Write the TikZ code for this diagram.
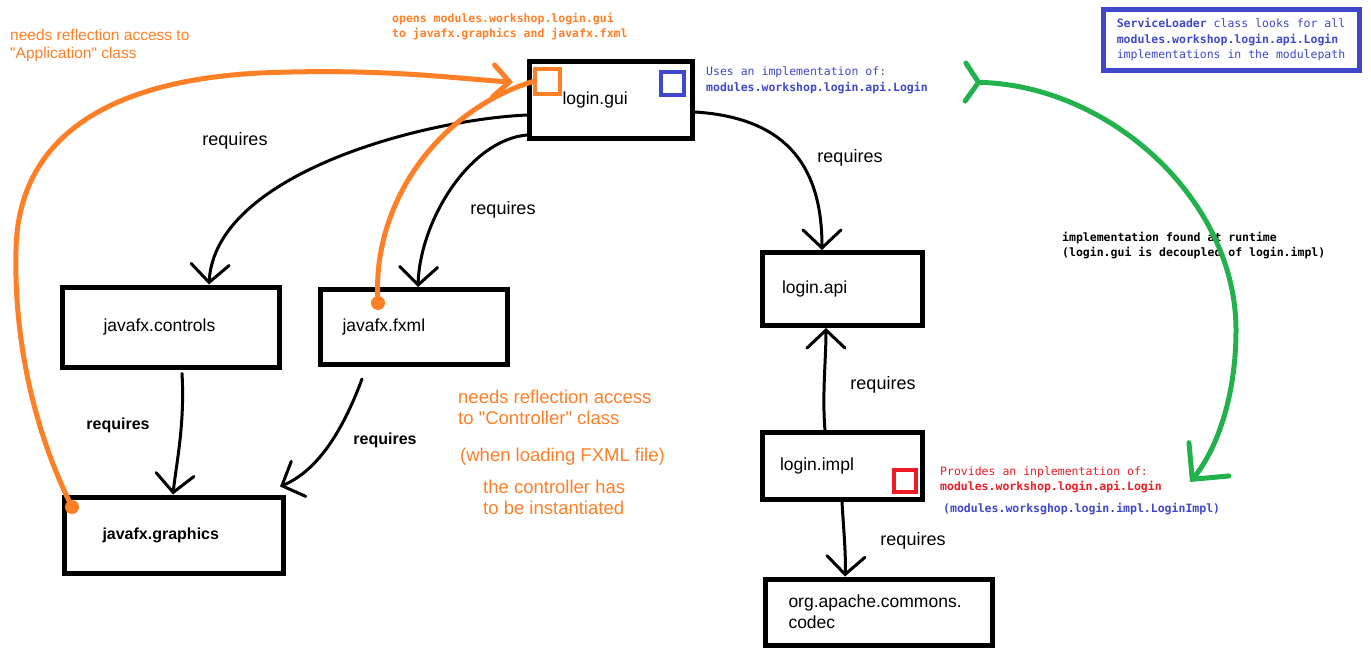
\documentclass[tikz,border=0pt]{standalone}
\usepackage{fontspec}
\setmainfont{Liberation Sans}
\newfontfamily\consfont{DejaVu Sans Mono}
\usetikzlibrary{arrows.meta}
\definecolor{paintorange}{HTML}{FF7F27}
\definecolor{paintblue}{HTML}{3F48CC}
\definecolor{paintred}{HTML}{ED1C24}
\definecolor{paintgreen}{HTML}{22B14C}
\newcommand{\mb}[1]{\textbf{#1}}
\newcommand{\qq}[1]{\textquotedbl#1\textquotedbl}
\tikzset{
	modbox/.style={draw, line width=5pt, minimum height=#1, align=left,
		font=\fontsize{17.5}{21}\selectfont},
	req/.style={line width=3pt, line cap=round,
		-{Straight Barb[length=18pt,width=38pt,line cap=round]}},
	reqlabel/.style={font=\fontsize{18}{22}\selectfont, inner sep=0pt},
	reqbold/.style={font=\fontsize{16}{20}\selectfont\bfseries, inner sep=0pt},
	mono/.style={font=\fontsize{11.5}{15.5}\selectfont\consfont, align=left, anchor=west, inner sep=0pt},
	note/.style={text=paintorange, align=left, anchor=west, inner sep=0pt},
	mark box/.style={draw=#1, line width=4pt, inner sep=0pt},
	reflect/.style={draw=paintorange, line width=5pt, line cap=round},
	odot/.style={circle, fill=paintorange, minimum size=14pt, inner sep=0pt},
	found/.style={draw=paintgreen, line width=5pt, line cap=round}
}
\begin{document}
\begin{tikzpicture}[x=1pt, y=-1pt]
	\fill[white] (0,0) rectangle (1371,669);
	\useasboundingbox (0,0) rectangle (1371,669);
	% modules
	\node[modbox=76pt, text width=97pt, inner xsep=33pt] (gui) at (611,100) {login.gui};
	\node[modbox=80pt, text width=135pt, inner xsep=41pt] (controls) at (171,327) {javafx.controls};
	\node[modbox=75pt, text width=143pt, inner xsep=22pt] (fxml) at (414,327) {javafx.fxml};
	\node[modbox=76pt, text width=143pt, inner xsep=38pt, font=\fontsize{16}{20}\selectfont\bfseries] (graphics) at (174,535) {javafx.graphics};
	\node[modbox=73pt, text width=120pt, inner xsep=20pt] (api) at (842,289) {login.api};
	\node[modbox=67pt, text width=124pt, inner xsep=18pt] (impl) at (842,466) {login.impl};
	\node[modbox=66pt, text width=181pt, inner xsep=23pt] (codec) at (879,612) {org.apache.commons.\\codec};
	%
	\node[mark box=paintorange, minimum size=25pt] (guiopens) at (547.5,81.5) {};
	\node[mark box=paintblue, minimum size=23pt] (guiuses) at (672.5,83.5) {};
	\node[mark box=paintred, minimum size=22pt] (implprov) at (905,481) {};
	% requires
	\draw[req] ([yshift=-15pt]gui.west) .. controls (420,120) and (215,175) .. ([xshift=38pt]controls.north);
	\draw[req] ([yshift=-35pt]gui.west) .. controls (470,140) and (420,220) .. ([xshift=4pt]fxml.north);
	\draw[req] ([yshift=-12pt]gui.east) .. controls (790,118) and (822,170) .. ([xshift=-20pt]api.north);
	\draw[req] ([shift={(11pt,-4pt)}]controls.south) .. controls (185,425) and (176,465) .. ([xshift=-1pt]graphics.north);
	\draw[req] ([shift={(-52pt,-12pt)}]fxml.south) .. controls (345,425) and (320,470) .. ([shift={(-6pt,8pt)}]graphics.north east);
	\draw[req] ([xshift=-17pt]impl.north) .. controls (822,395) and (826,360) .. ([xshift=-16pt]api.south);
	\draw[req] (impl.south) .. controls (844,535) and (846,555) .. ([xshift=-34pt]codec.north);
	%
	\node[reqlabel] (reqctrl) at (235,141) {requires};
	\node[reqlabel] (reqfxml) at (503,210) {requires};
	\node[reqlabel] (reqapi) at (850,158) {requires};
	\node[reqlabel] (reqimpl) at (883,385) {requires};
	\node[reqbold] (reqgfx) at (118,425) {requires};
	\node[reqbold] (reqgfxb) at (385,440) {requires};
	\node[reqlabel] (reqcodec) at (913,541) {requires};
	% reflection
	\node[odot] (appdot) at (72,507) {};
	\node[odot] (ctrldot) at (378,303) {};
	\draw[reflect, -{Straight Barb[length=16pt,width=32pt,line cap=round]}, shorten >=20pt]
		(appdot) .. controls (30,420) and (14,330) .. (16,250)
		.. controls (18,130) and (120,80) .. (260,73)
		.. controls (380,68) and (450,78) .. ([yshift=-2pt]guiopens.west);
	\draw[reflect] (ctrldot) .. controls (374,200) and (440,110) .. (guiopens.west);
	%
	\node[note, font=\fontsize{15.5}{18}\selectfont] (appnote) at (10,45) {needs reflection access to\\\qq{Application} class};
	\node[mono, text=paintorange, font=\fontsize{11.5}{15.5}\selectfont\consfont\bfseries] (openstext) at (392,26.5) {opens modules.workshop.login.gui\\to javafx.graphics and javafx.fxml};
	\node[note, font=\fontsize{18.5}{21}\selectfont] (ctrlnote) at (458,407.5) {needs reflection access\\to \qq{Controller} class};
	\node[note, font=\fontsize{18.5}{21}\selectfont] (fxmlnote) at (460,457) {(when loading FXML file)};
	\node[note, font=\fontsize{18.5}{21}\selectfont] (instnote) at (483,497.5) {the controller has\\to be instantiated};
	% service loader
	\node[mono, text=paintblue] (usesnote) at (706,80.5) {Uses an implementation of:\\\mb{modules.workshop.login.api.Login}};
	\node[draw=paintblue, line width=5pt, minimum width=256pt, minimum height=61pt, inner xsep=13pt,
		font=\fontsize{11.5}{15.5}\selectfont\consfont, text=paintblue, align=left] (loaderbox) at (1231,40)
		{\mb{ServiceLoader} class looks for all\\\mb{modules.workshop.login.api.Login}\\implementations in the modulepath};
	\node[mono, font=\fontsize{11.5}{15.5}\selectfont\consfont\bfseries] (foundtext) at (1062,245.5) {implementation found at runtime\\(login.gui is decoupled of login.impl)};
	\node[mono, text=paintred] (provtext) at (940,480) {Provides an inplementation of:\\\mb{modules.workshop.login.api.Login}};
	\node[mono, text=paintblue, font=\fontsize{11.5}{15.5}\selectfont\consfont\bfseries] (impltext) at (943,509) {(modules.worksghop.login.impl.LoginImpl)};
	%
	\coordinate (foundtop) at (963,82);
	\coordinate (foundbot) at (1190,482);
	\draw[found, {Straight Barb[reversed,length=13pt,width=38pt,line cap=round]}-{Straight Barb[length=26pt,width=52pt,line cap=round]}]
		(foundtop) .. controls (1110,85) and (1236,200) .. (1236,330)
		.. controls (1236,400) and (1215,452) .. (foundbot);
\end{tikzpicture}
\end{document}
